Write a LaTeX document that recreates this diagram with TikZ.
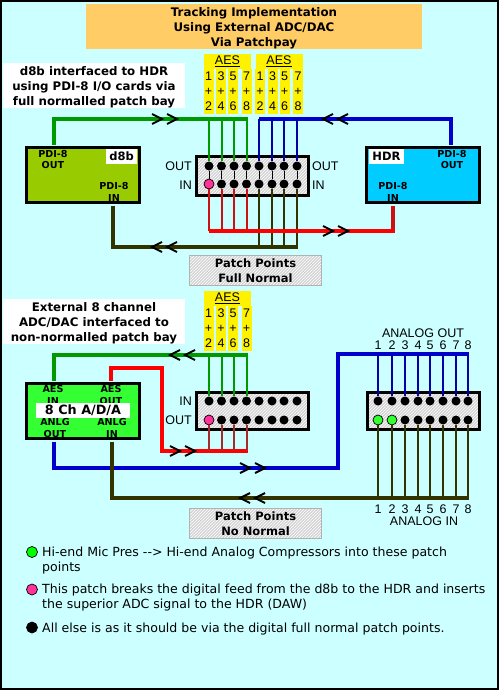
\documentclass[tikz,border=0pt]{standalone}
\usepackage{fontspec}
\setmainfont{DejaVu Sans}
\newfontfamily\arialfont{Liberation Sans}
\definecolor{PBCyan}{HTML}{CCFFFF}
\definecolor{PBTitle}{HTML}{FFCC66}
\definecolor{PBOlive}{HTML}{99CC00}
\definecolor{PBSky}{HTML}{00CCFF}
\definecolor{PBLime}{HTML}{33FF33}
\definecolor{PBGreen}{HTML}{009900}
\definecolor{PBBlue}{HTML}{0000CC}
\definecolor{PBNavy}{HTML}{0000AA}
\definecolor{PBRed}{HTML}{FF0000}
\definecolor{PBBrick}{HTML}{CC1111}
\definecolor{PBBrown}{HTML}{A52A2A}
\definecolor{PBDark}{HTML}{333300}
\definecolor{PBPink}{HTML}{FF3399}
\definecolor{PBHatch}{HTML}{D4D4D4}
\usetikzlibrary{patterns}
\begin{document}
\begin{tikzpicture}[x=1pt,y=-1pt,
    every node/.style={inner sep=0pt},
    titlefont/.style={font=\bfseries\fontsize{11.8}{15}\selectfont, align=center},
    smallfont/.style={font=\bfseries\fontsize{9.6}{11.5}\selectfont, align=center},
    plainfont/.style={font=\arialfont\fontsize{12.5}{15}\selectfont},
    legendfont/.style={font=\fontsize{12.55}{15}\selectfont, align=left, anchor=west},
    device/.style={rectangle, draw=black, line width=3pt, fill=#1, minimum width=113, minimum height=55},
    namebox/.style={rectangle, fill=white, font=\bfseries\fontsize{11.5}{14}\selectfont},
    bay/.style={rectangle, draw=black, line width=3pt, minimum width=112, minimum height=#1,
      preaction={fill=PBHatch}, pattern=north east lines, pattern color=white},
    patchlabel/.style={rectangle, draw=black!30, minimum width=132, minimum height=30, align=center,
      font=\bfseries\fontsize{11.5}{15}\selectfont,
      preaction={fill=PBHatch}, pattern=north east lines, pattern color=white},
    aeshead/.style={rectangle, fill=yellow, minimum width=47, minimum height=15, plainfont},
    aescol/.style={rectangle, fill=yellow, minimum width=10, minimum height=45, align=center, plainfont},
    jack/.style={circle, fill=black, minimum size=9},
    marked/.style={circle, draw=black, line width=0.7pt, fill=#1, minimum size=10},
    bus/.style={line width=4pt, draw=#1},
    wire/.style={line width=2pt, draw=#1},
    chevr/.pic={\draw[black, line width=2pt] (-5,-5) -- (5,0) -- (-5,5);},
    chevl/.pic={\draw[black, line width=2pt] (5,-5) -- (-5,0) -- (5,5);}]
  \useasboundingbox (0,0) rectangle (499,690);
  \draw[line width=2pt, fill=PBCyan] (1,1) rectangle (498,689);

  % headings
  \node[fill=PBTitle, minimum width=336, minimum height=45] (titlebox) at (254,26.5) {};
  \node[titlefont] (title) at (254,28) {Tracking Implementation\\Using External ADC/DAC\\Via Patchpay};
  \node[fill=white, minimum width=182, minimum height=45] (note1box) at (94,85.5) {};
  \node[titlefont] (note1) at (94,87.5) {d8b interfaced to HDR\\using PDI-8 I/O cards via\\full normalled patch bay};
  \node[fill=white, minimum width=182, minimum height=45] (note2box) at (94,321.5) {};
  \node[titlefont] (note2) at (94,323.5) {External 8 channel\\ADC/DAC interfaced to\\non-normalled patch bay};

  % AES blocks
  \foreach \gx/\gy/\gname in {0/0/a, 51.5/0/b, 0/236.5/c} {
    \node[aeshead] (\gname head) at (227.5+\gx,61.5+\gy) {\underline{AES}};
    \foreach \xx/\aa/\bb [count=\i] in {208.5/1/2, 221/3/4, 233/5/6, 246.5/7/8}
      \node[aescol] (\gname col\i) at (\xx+\gx,91.5+\gy) {\aa\\+\\\bb};
  }

  % devices
  \node[device=PBOlive] (d8b) at (83,175) {};
  \node[namebox, minimum width=31, minimum height=15] (d8bname) at (121.5,156.5) {d8b};
  \node[smallfont] (d8bout) at (53,159.5) {PDI-8\\OUT};
  \node[smallfont] (d8bin) at (114,192) {PDI-8\\IN};
  \node[device=PBSky] (hdr) at (422.5,175) {};
  \node[namebox, minimum width=35, minimum height=15] (hdrname) at (386.5,156.5) {HDR};
  \node[smallfont] (hdrout) at (452,159.5) {PDI-8\\OUT};
  \node[smallfont] (hdrin) at (393,192) {PDI-8\\IN};
  \node[device=PBLime] (ada) at (83,411) {};
  \node[smallfont] (adaaesin) at (53,395) {AES\\IN};
  \node[smallfont] (adaaesout) at (111,395) {AES\\OUT};
  \node[namebox, font=\bfseries\fontsize{12.8}{14}\selectfont, minimum width=94, minimum height=15] (adaname) at (83,410.5) {8 Ch A/D/A};
  \node[smallfont] (adaanlgout) at (55,428) {ANLG\\OUT};
  \node[smallfont] (adaanlgin) at (112,428) {ANLG\\IN};

  % patch bays
  \node[bay=39] (bayA) at (252.5,176) {};
  \node[bay=37] (bayB) at (252.5,411) {};
  \node[bay=37] (bayC) at (423.5,411) {};
  \node[plainfont, anchor=east] (outA) at (192,166) {OUT};
  \node[plainfont, anchor=east] (inA) at (192,185) {IN};
  \node[plainfont, anchor=west] (outAr) at (312,166) {OUT};
  \node[plainfont, anchor=west] (inAr) at (312,185) {IN};
  \node[plainfont, anchor=east] (inB) at (192,401.5) {IN};
  \node[plainfont, anchor=east] (outB) at (192,420.5) {OUT};
  \foreach \xx [count=\i] in {209,221.5,234,246.5,259,272,284,297} {
    \node[jack] (at\i) at (\xx,166) {};
    \node[jack] (ab\i) at (\xx,184) {};
    \draw[black, line width=1pt] (at\i) -- (ab\i);
    \node[jack] (bt\i) at (\xx,401) {};
    \node[jack] (bb\i) at (\xx,420) {};
  }
  \foreach \xx [count=\i] in {378,392,405,418,430,443,456,468} {
    \node[jack] (ct\i) at (\xx,401) {};
    \node[jack] (cb\i) at (\xx,420) {};
    \node[plainfont] (ctn\i) at (\xx,345) {\i};
    \node[plainfont] (cbn\i) at (\xx,509) {\i};
  }
  \node[marked=PBPink] (pinkA) at (209,184) {};
  \node[marked=PBPink] (pinkB) at (209,420) {};
  \node[marked=PBLime] (limeA) at (378,420) {};
  \node[marked=PBLime] (limeB) at (392,420) {};
  \node[plainfont] (aout) at (423,333) {ANALOG OUT};
  \node[plainfont] (ain) at (424,521) {ANALOG IN};
  \node[patchlabel] (pointsA) at (255.5,270.5) {Patch Points\\Full Normal};
  \node[patchlabel] (pointsB) at (255.5,523.5) {Patch Points\\No Normal};

  % bus corners
  \coordinate (gA) at (248,119);
  \coordinate (lA) at (259,119);
  \coordinate (rA) at (209,231);
  \coordinate (dA) at (298,247);
  \coordinate (gB) at (248,355);
  \coordinate (rB) at (247.5,451);
  \coordinate (uB) at (338,354);
  \coordinate (uC) at (469,354);
  \coordinate (dC) at (469,498);
  \coordinate (gBs) at (54,380.5);
  \coordinate (rBs) at (111,380.5);

  % top section
  \draw[bus=PBGreen] (54,144.5) |- (gA);
  \draw[bus=PBBlue] (451,144.5) |- (lA);
  \draw[bus=PBDark] (113,205.5) |- (dA);
  \draw[bus=PBBrick] (393,205.5) -- (393,231);
  \foreach \i in {1,2,3,4} {
    \draw[wire=PBGreen] (at\i |- gA) -- (at\i);
    \draw[wire=PBBrick] (ab\i) -- (ab\i |- rA);
  }
  \foreach \i in {5,6,7,8} {
    \draw[wire=PBNavy] (at\i |- lA) -- (at\i);
    \draw[wire=PBDark] (ab\i) -- (ab\i |- dA);
  }
  \draw[bus=PBRed] (rA) -- (395,231);

  % lower section
  \draw[bus=PBGreen] (gBs) |- (gB);
  \draw[bus=PBRed] (rBs) |- (162,368) |- (rB);
  \draw[bus=PBBlue] (54,441.5) |- (338,468) -- (uB) -- (uC);
  \draw[bus=PBDark] (112,441.5) |- (dC);
  \foreach \i in {1,2,3,4} {
    \draw[wire=PBGreen] (bt\i |- gB) -- (bt\i);
    \draw[wire=PBBrown] (bb\i) -- (bb\i |- rB);
  }
  \foreach \i in {1,...,8} {
    \draw[wire=PBNavy] (ct\i |- uB) -- (ct\i);
    \draw[wire=PBDark] (cb\i) -- (cb\i |- dC);
  }

  % flow marks
  \foreach \xx in {157,172} {
    \pic at (\xx,119) {chevr};
    \pic at (\xx,247) {chevl};
  }
  \foreach \xx in {328,343} {
    \pic at (\xx,119) {chevl};
    \pic at (\xx,231) {chevr};
  }
  \foreach \xx in {175,190} {
    \pic at (\xx,355) {chevl};
    \pic at (\xx,451) {chevr};
  }
  \foreach \xx in {245,260} {
    \pic at (\xx,468) {chevr};
    \pic at (\xx,498) {chevl};
  }

  % legend
  \node[marked=green, minimum size=11] (keygreen) at (32,552) {};
  \node[legendfont] (keygreentext) at (42,560.5) {Hi-end Mic Pres -{}-> Hi-end Analog Compressors into these patch\\points};
  \node[marked=PBPink, minimum size=11] (keypink) at (32,589.5) {};
  \node[legendfont] (keypinktext) at (42,597.5) {This patch breaks the digital feed from the d8b to the HDR and inserts\\the superior ADC signal to the HDR (DAW)};
  \node[marked=black, minimum size=11] (keyblack) at (32,627.5) {};
  \node[legendfont] (keyblacktext) at (42,629) {All else is as it should be via the digital full normal patch points.};
\end{tikzpicture}
\end{document}
